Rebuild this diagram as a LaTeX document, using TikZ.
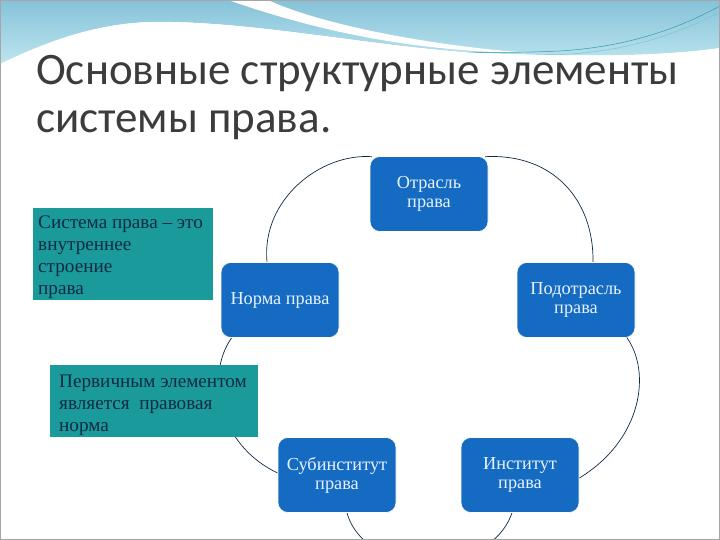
\documentclass[tikz,border=0pt]{standalone}
\usepackage{fontspec}
\setmainfont{Liberation Serif}
\newfontfamily\titlefont{Carlito}
\usetikzlibrary{backgrounds}
\definecolor{nodeblue}{HTML}{156AC1}
\definecolor{boxteal}{HTML}{1A9A9A}
\definecolor{darktext}{HTML}{0D2A45}
\definecolor{lighttext}{HTML}{E6F3FF}
\definecolor{titlegray}{HTML}{3C3C3C}
\definecolor{waveblue}{HTML}{86C2D9}
\definecolor{wavelight}{HTML}{BDE5EF}
\definecolor{waveline}{HTML}{2E9BB0}
\begin{document}
\begin{tikzpicture}[x=1pt,y=-1pt,
  cyc/.style={draw=white,line width=0.6pt,fill=nodeblue,rounded corners=10pt,
    minimum width=118pt,minimum height=75pt,inner sep=0pt,align=center,
    text=lighttext,font=\fontsize{18.3}{19}\selectfont},
  note/.style={fill=boxteal,inner sep=0pt,text=darktext,align=left,anchor=north west,
    font=\fontsize{19.2}{21.8}\selectfont},
  ring/.style={draw=darktext,line width=0.7pt},
  ttl/.style={anchor=base west,inner sep=0pt,text=titlegray,font=\titlefont\fontsize{45}{50}\selectfont}]
\useasboundingbox (0,0) rectangle (720,540);
% background waves
\begin{scope}[on background layer]
\fill[white] (0,0) rectangle (720,540);
\shade[top color=waveblue,bottom color=wavelight]
  (0,0) -- (720,0) -- (720,48) .. controls (650,58) and (560,56) .. (480,53)
  .. controls (380,48) and (250,20) .. (150,22) .. controls (90,24) and (40,45) .. (0,64) -- cycle;
\fill[white] (228,0) .. controls (300,25) and (400,52) .. (530,53)
  .. controls (410,44) and (310,20) .. (268,0) -- cycle;
\draw[waveline,line width=0.5pt] (40,60) .. controls (100,38) and (180,33) .. (250,39)
  .. controls (350,48) and (450,56) .. (560,51) .. controls (640,46) and (690,22) .. (720,6);
\draw[waveline!60,line width=0.5pt] (45,62) .. controls (110,42) and (190,37) .. (260,43)
  .. controls (360,52) and (460,58) .. (570,54) .. controls (645,49) and (692,26) .. (720,12);
\fill[white] (0,64) .. controls (40,45) and (90,24) .. (150,22)
  .. controls (250,20) and (380,48) .. (480,53) .. controls (560,56) and (650,58) .. (720,48)
  -- (720,70) -- (0,70) -- cycle;
\end{scope}
% title
\node[ttl] (t1) at (36,85) {Основные структурные элементы};
\node[ttl] (t2) at (36,133) {системы права.};
% nodes
\node[cyc] (otr) at (429,194) {Отрасль\\права};
\node[cyc] (norma) at (280,300) {Норма права};
\node[cyc] (podotr) at (576,300) {Подотрасль\\права};
\node[cyc] (sub) at (337,475) {Субинститут\\права};
\node[cyc] (inst) at (520,475) {Институт\\права};
% ring arcs
\begin{scope}[on background layer]
\clip (0,0) rectangle (720,540);
\draw[ring] ([xshift=-57pt,yshift=-0.5pt]otr.north) .. controls (320,153) and (261,200) .. ([xshift=-13pt]norma.north);
\draw[ring] ([xshift=56pt,yshift=-0.5pt]otr.north) .. controls (553,153) and (594,200) .. ([xshift=17pt]podotr.north);
\draw[ring] ([xshift=-9pt,yshift=1pt]podotr.south east) .. controls (652,372) and (642,440) .. ([yshift=-3pt]inst.east);
\draw[ring] ([xshift=-8pt]inst.south) .. controls (490,578) and (365,578) .. ([xshift=10pt]sub.south);
\draw[ring] ([yshift=2pt]sub.west) .. controls (218,445) and (205,375) .. ([xshift=11pt]norma.south west);
\end{scope}
% notes
\node[note,minimum width=180pt,minimum height=92pt] (def) at (33,208)
  {\hspace*{4pt}\parbox[t][88pt][t]{174pt}{\vspace{6pt}Система права – это\\внутреннее\\строение\\права}};
\node[note,minimum width=208pt,minimum height=72pt] (prim) at (50,365)
  {\hspace*{8pt}\parbox[t][70pt][t]{198pt}{\vspace{9pt}Первичным элементом\\является \ правовая\\норма}};
% frame
\draw[gray!70,line width=1pt] (0.5,0.5) rectangle (719.5,539.5);
\end{tikzpicture}
\end{document}
